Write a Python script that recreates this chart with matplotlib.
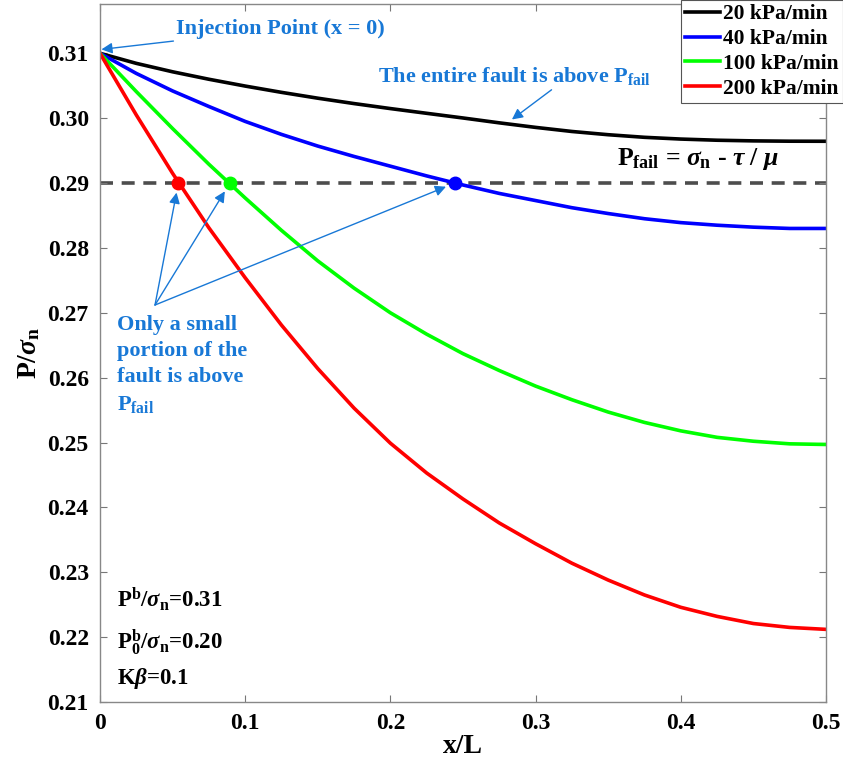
import numpy as np
import matplotlib
matplotlib.use('Agg')
from matplotlib import pyplot as plt

plt.rcParams['font.family'] = ['Liberation Serif', 'DejaVu Serif']
plt.rcParams['font.weight'] = 'bold'
plt.rcParams['axes.labelweight'] = 'bold'
plt.rcParams['mathtext.fontset'] = 'custom'
plt.rcParams['mathtext.rm'] = 'Liberation Serif:bold'
plt.rcParams['mathtext.bf'] = 'Liberation Serif:bold'
plt.rcParams['mathtext.it'] = 'Liberation Serif:italic'

# %% data
x = [0.0, 0.025, 0.05, 0.075, 0.1, 0.125, 0.15, 0.175, 0.2, 0.225, 0.25,
     0.275, 0.3, 0.325, 0.35, 0.375, 0.4, 0.425, 0.45, 0.475, 0.5]
p_20 = [0.3100, 0.30845, 0.30715, 0.3060, 0.30495, 0.30398, 0.30308, 0.30225, 0.30148, 0.30075, 0.30003,
        0.29928, 0.29858, 0.29795, 0.29745, 0.29705, 0.29678, 0.2966, 0.2965, 0.29645, 0.29644]
p_40 = [0.3100, 0.3069, 0.3042, 0.3018, 0.2995, 0.2975, 0.2957, 0.2941, 0.2926, 0.2911, 0.2897,
        0.2884, 0.2873, 0.2862, 0.2853, 0.2845, 0.2839, 0.2835, 0.2832, 0.2830, 0.2830]
p_100 = [0.3100, 0.3041, 0.2984, 0.2929, 0.2877, 0.2827, 0.2780, 0.2738, 0.2700, 0.2667, 0.2637,
         0.2611, 0.2587, 0.2566, 0.2547, 0.2531, 0.2518, 0.2508, 0.2502, 0.2498, 0.2497]
p_200 = [0.3100, 0.3005, 0.2915, 0.2831, 0.2754, 0.2681, 0.2614, 0.2553, 0.2499, 0.2453, 0.2413,
         0.2376, 0.2344, 0.2314, 0.2288, 0.2265, 0.2246, 0.2232, 0.2221, 0.2215, 0.2212]
labels = ['20 kPa/min', '40 kPa/min', '100 kPa/min', '200 kPa/min']
colors = ['black', '#0000ff', '#00ff00', '#ff0000']

p_fail = 0.29
x_cross = [0.2445, 0.0895, 0.0540]   # blue, green, red crossing points
cross_colors = ['#0000ff', '#00ff00', '#ff0000']

yticks = [0.21, 0.22, 0.23, 0.24, 0.25, 0.26, 0.27, 0.28, 0.29, 0.30, 0.31]
xticks = [0, 0.1, 0.2, 0.3, 0.4, 0.5]
xticklabels = ['0', '0.1', '0.2', '0.3', '0.4', '0.5']

note_blue = '#1878d6'


# %%
def main():
    fig = plt.figure(figsize=(8.43, 7.69), dpi=100)
    ax = fig.add_axes([0.1186, 0.0871, 0.8612, 0.9077])

    handles = []
    for ys, lab, c in zip([p_20, p_40, p_100, p_200], labels, colors):
        h, = ax.plot(x, ys, color=c, lw=2.6, label=lab, solid_joinstyle='round')
        handles.append(h)

    ax.axhline(p_fail, color='#4d4d4d', lw=2.6, ls=(0, (3.6, 2.4)), zorder=1)
    for xc, c in zip(x_cross, cross_colors):
        ax.plot(xc, p_fail, 'o', color=c, ms=9, zorder=5)

    ax.set_xlim(0, 0.5)
    ax.set_ylim(0.21, 0.3176)
    ax.set_xticks(xticks)
    ax.set_xticklabels(xticklabels)
    ax.set_yticks(yticks)
    ax.set_yticklabels(['%.2f' % v for v in yticks])
    ax.tick_params(direction='in', length=5, width=0.8, color='#777777',
                   top=True, right=True, labelsize=17, pad=8)
    for s in ax.spines.values():
        s.set_color('#888888')
        s.set_linewidth(1.0)

    ax.set_xlabel('x/L', fontsize=20, labelpad=0)
    ax.set_ylabel(r'P/$\sigma_{\rm n}$', fontsize=20, labelpad=4)

    # annotations
    arw = dict(arrowstyle='-|>', color=note_blue, lw=1.0, mutation_scale=16, shrinkA=0)
    ax.annotate('Injection Point (x = 0)', xy=(0.001, 0.3106), xytext=(0.0525, 0.3138),
                color=note_blue, fontsize=16, va='center', ha='left',
                arrowprops=dict(arw, shrinkB=0))
    ax.annotate(r'The entire fault is above P$_{\rm fail}$', xy=(0.2837, 0.2998),
                xytext=(0.1915, 0.3065), color=note_blue, fontsize=16, va='center', ha='left',
                arrowprops=dict(arw, shrinkB=0, relpos=(0.65, 0.0)))
    ax.text(0.356, 0.2937, r'P$_{\rm fail}$ = $\sigma_{\rm n}$ - $\tau$ / $\mu$',
            fontsize=18.5, va='center', ha='left')

    src = (0.0379, 0.2712)
    for xc in x_cross:
        ax.annotate('', xy=(xc, p_fail), xytext=src,
                    arrowprops=dict(arw, shrinkB=7))
    ax.text(0.0117, 0.2696, 'Only a small\nportion of the\nfault is above\n' + r'P$_{\rm fail}$',
            color=note_blue, fontsize=16, va='top', ha='left', linespacing=1.4)

    ax.text(0.0117, 0.2246, r'P$^{\rm b}$/$\sigma_{\rm n}$=0.31', fontsize=16.5, va='baseline')
    ax.text(0.0117, 0.2180, r'P$^{\rm b}_{\rm 0}$/$\sigma_{\rm n}$=0.20', fontsize=16.5, va='baseline')
    ax.text(0.0117, 0.2128, r'K$\beta$=0.1', fontsize=16.5, va='baseline')

    leg = fig.legend(handles=handles, loc='upper right', bbox_to_anchor=(1.0, 1.0),
                     fontsize=15.5, frameon=True, fancybox=False, framealpha=1,
                     edgecolor='#555555', handlelength=1.6, handletextpad=0.15,
                     labelspacing=0.22, borderpad=0.2, borderaxespad=0.0)
    leg.get_frame().set_linewidth(0.8)

    fig.savefig('out.png', dpi=100)


# %%
if __name__ == '__main__':
    main()
